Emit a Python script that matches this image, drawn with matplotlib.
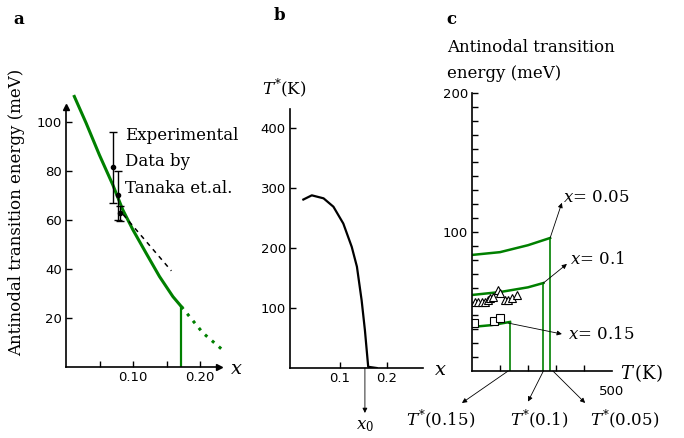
import numpy as np
import matplotlib
matplotlib.use("Agg")
import matplotlib.pyplot as plt

plt.rcParams['font.family'] = ['DejaVu Serif']
plt.rcParams['mathtext.fontset'] = 'dejavuserif'

GREEN = "#008000"

# panel a: antinodal transition energy vs doping
a_x = [0.0124, 0.0299, 0.0497, 0.0697, 0.0846, 0.0996, 0.1194, 0.1393, 0.1593, 0.1720]
a_e = [110.3, 99.5, 86.5, 74.3, 64.1, 56.0, 46.4, 36.9, 28.7, 24.6]
a_dot_x = [0.172, 0.204, 0.237]
a_dot_e = [24.6, 13.9, 6.1]
a_dash_x = [0.085, 0.157]
a_dash_e = [62.2, 39.2]
exp_x = [0.070, 0.077, 0.081]
exp_e = [81.5, 70.0, 62.7]
exp_err = [14.5, 10.0, 3.0]

# panel b: T* vs doping
b_x = [0.022, 0.040, 0.065, 0.086, 0.107, 0.125, 0.136, 0.146, 0.153, 0.160, 0.178]
b_t = [281, 288, 283, 269, 241, 202, 169, 113, 63, 2, 0]
x0 = 0.153

# panel c: energy vs temperature for three dopings
c_labels = ["0.05", "0.1", "0.15"]
c_T = [[0, 100, 200, 279], [0, 100, 200, 255], [0, 70, 136]]
c_E = [[83.5, 85.5, 90.5, 95.7], [54.7, 56.8, 60.2, 63.3], [31.7, 33.0, 35.3]]
tri_T = [11, 21, 36, 46, 57, 64, 75, 93, 100, 118, 129, 143, 161]
tri_E = [49.6, 49.6, 49.6, 49.6, 51.0, 52.5, 53.0, 58.0, 56.0, 51.0, 51.0, 52.5, 54.7]
sq_T = [7, 79, 100]
sq_E = [34.5, 36.0, 38.0]

W, H = 684, 438


def box(l, t, r, b):
    return [l / W, 1 - b / H, (r - l) / W, (b - t) / H]


def ftext(x, y, s, **kw):
    fig.text(x / W, 1 - y / H, s, **kw)


def style(ax):
    for s in ["top", "right"]:
        ax.spines[s].set_visible(False)
    for s in ["left", "bottom"]:
        ax.spines[s].set_linewidth(1.2)
    ax.tick_params(labelsize=9.5, width=1.0, length=4, pad=3)
    for lab in ax.get_xticklabels() + ax.get_yticklabels():
        lab.set_family("DejaVu Sans")
    ax.patch.set_alpha(0)


def arrow_heads(ax, up=True, right=True):
    if up:
        ax.plot(0, 1, "^k", ms=4, transform=ax.transAxes, clip_on=False)
    if right:
        ax.plot(1, 0, ">k", ms=4, transform=ax.transAxes, clip_on=False)


fig = plt.figure(figsize=(6.84, 4.38), dpi=100)

# ---- panel a
ax1 = fig.add_axes(box(66, 107, 219, 367))
ax1.plot(a_x, a_e, color=GREEN, lw=2.2, clip_on=False)
ax1.plot(a_dot_x, a_dot_e, color=GREEN, lw=2.2, ls=(0, (1, 2)), clip_on=False)
ax1.plot([a_x[-1], a_x[-1]], [0, a_e[-1]], color=GREEN, lw=1.6)
ax1.plot(a_dash_x, a_dash_e, color="k", lw=1.1, ls=(0, (3, 3)))
ax1.errorbar(exp_x, exp_e, yerr=exp_err, fmt="o", color="k", ms=3,
             elinewidth=1.0, capsize=3, capthick=1.0)
ax1.set_xlim(0, 0.228)
ax1.set_ylim(0, 106)
ax1.set_xticks([0.05, 0.10, 0.15, 0.20])
ax1.set_xticklabels(["", "0.10", "", "0.20"])
ax1.set_yticks([20, 40, 60, 80, 100])
ax1.tick_params(axis="both", direction="in")
style(ax1)
arrow_heads(ax1)

ftext(19, 19, "a", fontsize=12, fontweight="bold", ha="center", va="center")
ftext(17, 212, "Antinodal transition energy (meV)", fontsize=12,
      rotation=90, ha="center", va="center")
ftext(125, 135, "Experimental", fontsize=12, va="center")
ftext(125, 162, "Data by", fontsize=12, va="center")
ftext(125, 189, "Tanaka et.al.", fontsize=12, va="center")
ftext(230, 369, r"$x$", fontsize=14, va="center")

# ---- panel b
ax2 = fig.add_axes(box(290, 109, 423, 368))
ax2.plot(b_x, b_t, color="k", lw=1.6)
ax2.set_xlim(-0.0064, 0.2766)
ax2.set_ylim(0, 432)
ax2.set_xticks([0.1, 0.2])
ax2.set_xticklabels(["0.1", "0.2"])
ax2.set_yticks([100, 200, 300, 400])
ax2.tick_params(axis="both", direction="in")
style(ax2)
ax2.annotate("", xy=(x0, -75), xytext=(x0, 0),
             arrowprops=dict(arrowstyle="-|>", lw=0.6, color="k",
                             mutation_scale=7, shrinkA=0, shrinkB=0),
             annotation_clip=False)
ax2.text(x0, -96, r"$x_0$", fontsize=12, ha="center", va="center")

ftext(279, 16, "b", fontsize=12, fontweight="bold", ha="center", va="center")
ftext(284, 88, r"$T^{*}$(K)", fontsize=12, ha="center", va="center")
ftext(434, 370, r"$x$", fontsize=14, va="center")

# ---- panel c
ax3 = fig.add_axes(box(472, 93, 612, 371))
for T, E in zip(c_T, c_E):
    ax3.plot(T, E, color=GREEN, lw=1.8)
    ax3.plot([T[-1], T[-1]], [0, E[-1]], color=GREEN, lw=1.2)
ax3.plot(tri_T, tri_E, "^", mfc="white", mec="k", mew=0.8, ms=6, ls="none")
ax3.plot(sq_T, sq_E, "s", mfc="white", mec="k", mew=0.8, ms=5.5, ls="none")
ax3.set_xlim(0, 500)
ax3.set_ylim(0, 200)
ax3.set_xticks([100, 200, 300, 400])
ax3.set_xticklabels([])
ax3.set_yticks([100, 200])
ax3.set_yticks(np.arange(10, 200, 10), minor=True)
ax3.tick_params(axis="both", which="both", direction="in")
ax3.tick_params(axis="y", which="minor", length=4, width=1.0)
style(ax3)
ax3.text(500, -15, "500", fontsize=9.5, family="DejaVu Sans",
         ha="center", va="center")

ap = dict(arrowstyle="-|>", lw=0.6, color="k", mutation_scale=7,
          shrinkA=0, shrinkB=0)
# curve labels
label_tip = [(321, 121), (339, 77), (321, 26.6)]
label_pos = [(325, 125), (350, 80), (343, 26)]
label_from = [(c_T[0][-1], c_E[0][-1]), (c_T[1][-1], c_E[1][-1]), (129, 34.5)]
for lab, tip, pos, src in zip(c_labels, label_tip, label_pos, label_from):
    ax3.annotate("", xy=tip, xytext=src, arrowprops=ap, annotation_clip=False)
    ax3.text(pos[0], pos[1], r"$x$= " + lab, fontsize=12, va="center",
             clip_on=False)

# T* labels under the axis
star_src = [c_T[2][-1] - 7, c_T[1][-1], c_T[0][-1] + 10]
star_tip = [(-36, -23), (200, -22), (404, -23)]
star_pos = [(-114, -35), (239, -35), (546, -35)]
for lab, src, tip, pos in zip(["0.15", "0.1", "0.05"], star_src, star_tip, star_pos):
    ax3.annotate("", xy=tip, xytext=(src, 0), arrowprops=ap, annotation_clip=False)
    ax3.text(pos[0], pos[1], r"$T^{*}$(" + lab + ")", fontsize=12,
             ha="center", va="center", clip_on=False)

ftext(451, 19, "c", fontsize=12, fontweight="bold", ha="center", va="center")
ftext(447, 47, "Antinodal transition", fontsize=12, va="center")
ftext(447, 73, "energy (meV)", fontsize=12, va="center")
ftext(620, 373, r"$T\,$(K)", fontsize=13, va="center")

fig.savefig("out.png", dpi=100)
